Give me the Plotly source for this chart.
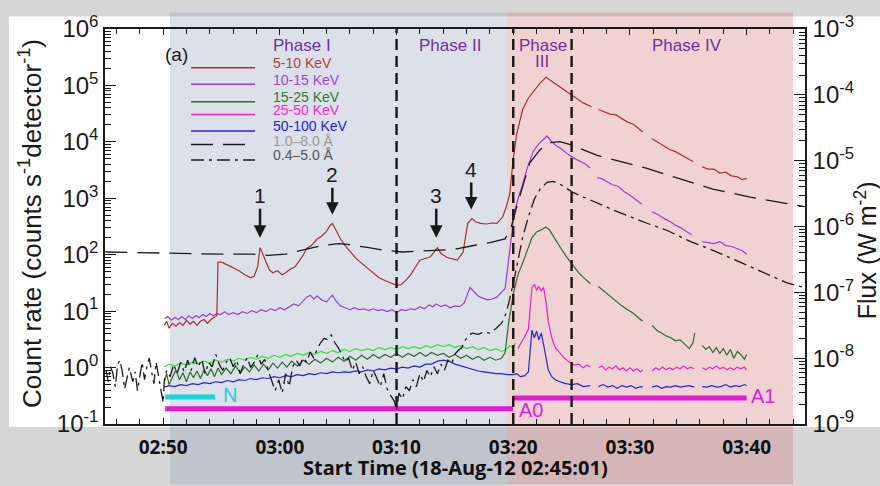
import math
import pandas as pd
import plotly.graph_objects as go

# Times are minutes after 2012-08-18 02:45:00 UT; None marks a data gap.
BASE = pd.Timestamp("2012-08-18 02:45:00")

# ---- RHESSI count rates (counts s^-1 detector^-1) ----
rate_5_10 = [
    (5.1, 5.6), (5.3, 6.6), (5.5, 5.0), (5.8, 6.1), (6.1, 5.4), (6.4, 6.3), (6.7, 5.6), (7.0, 6.9),
    (7.3, 5.9), (7.6, 6.6), (7.9, 5.6), (8.2, 6.6), (8.5, 7.1), (8.8, 6.1), (9.1, 7.1), (9.4, 7.7),
    (9.6, 8.3), (9.7, 74), (10.0, 74), (10.5, 66), (11.0, 58), (11.5, 52), (12.0, 44), (12.5, 39),
    (12.8, 42), (13.1, 61), (13.3, 134), (13.5, 106), (13.8, 80), (14.1, 54), (14.4, 48), (14.8, 52),
    (15.2, 44), (15.5, 48), (15.9, 56), (16.3, 61), (16.7, 80), (17.0, 98), (17.3, 129), (17.7, 145),
    (18.2, 190), (18.6, 215), (19.0, 260), (19.3, 330), (19.5, 358), (19.8, 270), (20.2, 190),
    (20.6, 145), (21.0, 115), (21.5, 87), (22.0, 71), (22.5, 58), (23.0, 46), (23.5, 39), (24.0, 35),
    (24.5, 32), (25.0, 28.6), (25.4, 29.6), (25.8, 35), (26.2, 44), (26.6, 58), (27.0, 80), (27.4, 85),
    (27.9, 92), (28.2, 110), (28.5, 134), (28.8, 105), (29.3, 90), (29.7, 85), (30.2, 80), (30.7, 110),
    (31.1, 360), (31.45, 437), (31.8, 380), (32.2, 360), (32.7, 350), (33.2, 365), (33.6, 360),
    (34.1, 470), (34.4, 700), (34.7, 1200), (35.0, 5000), (35.3, 13800), (35.8, 37000),
    (36.3, 60000), (36.8, 82000), (37.3, 110000), (37.8, 139000), (38.2, 123000), (38.6, 105000),
    (39.0, 93000), (39.5, 80000), (40.0, 68000), (40.5, 58000), (41.0, 49000), (41.7, 42000),
    (42.0, None),
    (42.3, 37500), (42.8, 34500), (43.3, 31000), (43.8, 30000), (44.3, 26300), (44.8, 22400),
    (45.3, 20500), (45.8, 17000), (46.1, 15000),
    (46.5, None),
    (46.9, 11300), (47.4, 9700), (47.9, 8600), (48.4, 7300), (48.9, 6700), (49.4, 5800),
    (49.9, 5200), (50.4, 4500),
    (50.8, None),
    (51.2, 3600), (51.7, 3300), (52.2, 3300), (52.7, 2800), (53.2, 2900), (53.7, 2500),
    (54.2, 2400), (54.6, 2150), (55.0, 2250),
]

rate_10_15 = [
    (5.1, 7.4), (5.4, 8.0), (5.7, 6.9), (6.0, 7.7), (6.3, 7.1), (6.6, 8.0), (6.9, 7.1), (7.2, 8.3),
    (7.5, 7.4), (7.8, 8.3), (8.1, 7.7), (8.4, 8.7), (8.7, 8.0), (9.0, 9.1), (9.3, 8.3), (9.6, 9.1),
    (9.9, 8.7), (10.3, 9.8), (10.6, 8.7), (11.0, 9.4), (11.4, 8.7), (11.8, 9.8), (12.2, 9.1),
    (12.6, 10.2), (13.0, 9.4), (13.4, 10.6), (13.8, 9.8), (14.2, 11.0), (14.6, 10.2), (15.0, 11.5),
    (15.4, 10.6), (15.8, 12.0), (16.2, 13.4), (16.6, 12.4), (17.0, 15.2), (17.3, 17.7), (17.6, 19.2),
    (17.9, 16.4), (18.2, 18.5), (18.6, 15.8), (19.0, 14.6), (19.3, 17.0), (19.5, 19.2), (19.8, 15.2),
    (20.2, 12.4), (20.6, 11.5), (21.0, 10.6), (21.4, 11.5), (21.8, 10.6), (22.2, 11.0), (22.6, 10.2),
    (23.0, 11.0), (23.4, 10.2), (23.8, 10.6), (24.2, 9.8), (24.6, 10.6), (25.0, 9.4), (25.4, 10.6),
    (25.8, 10.2), (26.2, 11.0), (26.6, 10.6), (27.0, 12.0), (27.4, 11.0), (27.8, 12.9), (28.1, 12.0),
    (28.4, 13.4), (28.8, 12.0), (29.2, 12.9), (29.6, 11.5), (30.0, 12.4), (30.4, 12.0), (30.8, 14.0),
    (31.1, 21.7), (31.3, 26.4), (31.6, 22.5), (32.0, 18.5), (32.4, 17.0), (32.8, 15.8), (33.2, 16.4),
    (33.6, 17.7), (34.0, 21.7), (34.3, 25), (34.5, 54), (34.8, 175), (35.1, 580), (35.5, 1130),
    (35.8, 1740), (36.2, 3430), (36.7, 6700), (37.2, 9300), (37.7, 11800), (37.9, 12700),
    (38.3, 10000), (38.7, 8500), (39.2, 7300), (39.7, 6000), (40.2, 5150), (40.7, 4550),
    (41.2, 4000), (41.6, 3430),
    (41.9, None),
    (42.2, 2320), (42.6, 2230), (43.0, 1990), (43.5, 1740), (44.0, 1620), (44.5, 1320), (45.0, 1130),
    (45.5, 930), (46.0, 795),
    (46.4, None),
    (46.9, 575), (47.4, 515), (47.9, 440), (48.4, 390), (48.9, 333), (49.4, 296), (49.9, 253),
    (50.3, 225),
    (50.7, None),
    (51.2, 171), (51.7, 164), (52.2, 157), (52.7, 171), (53.2, 145), (53.7, 140), (54.2, 129),
    (54.6, 119), (55.0, 102),
]

rate_15_25 = [
    (5.1, 0.56), (5.3, 0.78), (5.5, 0.50), (5.8, 0.69), (6.1, 0.91), (6.4, 0.61), (6.7, 0.81),
    (7.0, 0.56), (7.3, 0.84), (7.6, 0.66), (7.9, 0.87), (8.2, 0.64), (8.5, 0.91), (8.8, 0.72),
    (9.1, 0.95), (9.4, 0.69), (9.7, 0.98), (10.0, 0.75), (10.4, 0.98), (10.8, 0.78), (11.2, 1.07),
    (11.6, 0.81), (12.0, 1.02), (12.4, 0.84), (12.8, 1.11), (13.2, 0.87), (13.6, 1.15), (14.0, 0.91),
    (14.4, 1.2), (14.8, 0.98), (15.2, 1.25), (15.6, 1.02), (16.0, 1.3), (16.5, 1.07), (17.0, 1.35),
    (17.5, 1.15), (18.0, 1.4), (18.5, 1.2), (19.0, 1.46), (19.5, 1.25), (20.0, 1.52), (20.5, 1.3),
    (21.0, 1.58), (21.5, 1.35), (22.0, 1.65), (22.5, 1.4), (23.0, 1.71), (23.5, 1.46), (24.0, 1.71),
    (24.5, 1.52), (25.0, 1.78), (25.5, 1.52), (26.0, 1.78), (26.5, 1.58), (27.0, 1.85), (27.5, 1.58),
    (28.0, 1.85), (28.5, 1.65), (29.0, 1.78), (29.5, 1.52), (30.0, 1.71), (30.5, 1.46), (31.0, 1.65),
    (31.5, 1.4), (32.0, 1.58), (32.5, 1.35), (33.0, 1.52), (33.5, 1.35), (34.0, 1.46), (34.3, 1.85),
    (34.6, 6.1), (35.0, 20), (35.4, 44), (35.8, 71), (36.2, 119), (36.6, 199), (37.0, 253),
    (37.4, 275), (37.8, 310), (38.1, 275), (38.4, 218), (38.8, 157), (39.2, 119), (39.6, 90),
    (40.1, 66), (40.6, 48), (41.1, 38), (41.6, 31),
    (41.9, None),
    (42.3, 27.4), (42.8, 22.5), (43.3, 18.5), (43.8, 15.2), (44.3, 12.4), (44.8, 10.6), (45.3, 9.1),
    (45.8, 7.4), (46.1, 6.6),
    (46.5, None),
    (46.9, 5.6), (47.3, 4.6), (47.7, 4.1), (48.1, 3.64), (48.5, 3.37), (48.9, 2.98), (49.3, 3.1),
    (49.7, 2.64), (50.1, 2.17), (50.4, 2.75), (50.55, 4.1),
    (50.8, None),
    (51.2, 2.45), (51.5, 2.09), (51.8, 2.35), (52.1, 1.85), (52.4, 2.26), (52.7, 1.78), (53.0, 2.17),
    (53.3, 1.65), (53.6, 2.09), (53.9, 1.46), (54.2, 1.93), (54.5, 1.71), (54.8, 1.4), (55.0, 1.71),
]

rate_15_25_b = [
    (5.1, 1.02), (5.5, 1.15), (6.0, 1.07), (6.5, 1.2), (7.0, 1.11), (7.5, 1.25), (8.0, 1.15),
    (8.5, 1.3), (9.0, 1.2), (9.5, 1.35), (10.0, 1.25), (10.5, 1.4), (11.0, 1.3), (11.5, 1.46),
    (12.0, 1.35), (12.5, 1.52), (13.0, 1.4), (13.5, 1.58), (14.0, 1.46), (14.5, 1.65), (15.0, 1.52),
    (15.5, 1.71), (16.0, 1.58), (16.5, 1.78), (17.0, 1.65), (17.5, 1.85), (18.0, 1.71), (18.5, 1.93),
    (19.0, 1.78), (19.5, 2.0), (20.0, 1.85), (20.5, 2.09), (21.0, 1.93), (21.5, 2.17), (22.0, 2.0),
    (22.5, 2.17), (23.0, 2.0), (23.5, 2.26), (24.0, 2.09), (24.5, 2.26), (25.0, 2.09), (25.5, 2.35),
    (26.0, 2.17), (26.5, 2.35), (27.0, 2.17), (27.5, 2.45), (28.0, 2.26), (28.5, 2.55), (29.0, 2.35),
    (29.5, 2.55), (30.0, 2.26), (30.5, 2.45), (31.0, 2.17), (31.5, 2.35), (32.0, 2.09), (32.5, 2.26),
    (33.0, 2.0), (33.5, 2.17), (34.0, 1.93), (34.4, 2.09), (34.7, 2.45), (35.0, 2.17), (35.2, 2.75),
]

rate_25_50 = [
    (35.4, 2.17), (35.7, 2.75), (36.0, 3.6), (36.3, 4.8), (36.5, 13.4), (36.6, 26), (36.8, 30),
    (37.0, 23.4), (37.2, 27.4), (37.4, 22.5), (37.6, 26.4), (37.8, 14.6), (38.0, 6.6), (38.3, 3.37),
    (38.6, 2.26), (39.0, 1.85), (39.4, 1.46), (39.8, 1.25), (40.2, 1.11), (40.6, 1.15), (41.0, 0.99),
    (41.3, 1.11), (41.6, 1.02),
    (41.9, None),
    (42.3, 0.99), (42.6, 1.07), (42.9, 0.91), (43.2, 1.02), (43.5, 0.95), (43.8, 1.07), (44.1, 0.91),
    (44.4, 0.99), (44.7, 0.87), (45.0, 0.99), (45.3, 0.87), (45.6, 0.95), (45.9, 0.84), (46.1, 0.91),
    (46.5, None),
    (46.9, 0.87), (47.2, 0.99), (47.5, 0.91), (47.8, 1.02), (48.1, 0.91), (48.4, 0.99), (48.7, 0.91),
    (49.0, 1.02), (49.3, 0.95), (49.6, 1.07), (49.9, 0.95), (50.2, 1.02), (50.5, 0.95),
    (50.8, None),
    (51.2, 0.99), (51.5, 0.91), (51.8, 1.02), (52.1, 0.95), (52.4, 1.07), (52.7, 0.95), (53.0, 1.02),
    (53.3, 0.91), (53.6, 0.99), (53.9, 0.91), (54.2, 1.02), (54.5, 0.95), (54.8, 1.02), (55.0, 0.91),
]

rate_50_100 = [
    (5.1, 0.45), (5.5, 0.48), (6.0, 0.46), (6.5, 0.50), (7.0, 0.48), (7.5, 0.52), (8.0, 0.50),
    (8.5, 0.54), (9.0, 0.52), (9.5, 0.56), (10.0, 0.54), (10.5, 0.59), (11.0, 0.56), (11.5, 0.61),
    (12.0, 0.59), (12.5, 0.64), (13.0, 0.61), (13.5, 0.66), (14.0, 0.64), (14.5, 0.69), (15.0, 0.66),
    (15.5, 0.72), (16.0, 0.69), (16.5, 0.75), (17.0, 0.72), (17.5, 0.78), (18.0, 0.75), (18.5, 0.81),
    (19.0, 0.78), (19.5, 0.84), (20.0, 0.81), (20.5, 0.84), (21.0, 0.82), (21.5, 0.87), (22.0, 0.84),
    (22.5, 0.91), (23.0, 0.87), (23.5, 0.95), (24.0, 0.91), (24.5, 0.98), (25.0, 0.95), (25.5, 1.02),
    (26.0, 0.98), (26.5, 1.07), (27.0, 1.02), (27.5, 1.15), (28.0, 1.15), (28.5, 1.3), (29.0, 1.35),
    (29.5, 1.3), (30.0, 1.15), (30.5, 1.07), (31.0, 0.98), (31.5, 0.91), (32.0, 0.87), (32.5, 0.84),
    (33.0, 0.81), (33.5, 0.78), (34.0, 0.78), (34.5, 0.75), (35.0, 0.75), (35.3, 0.78), (35.6, 0.69),
    (36.0, 0.72), (36.3, 0.84), (36.5, 2.26), (36.6, 4.6), (36.8, 3.37), (37.0, 4.4), (37.2, 3.1),
    (37.4, 4.1), (37.6, 2.55), (37.8, 1.52), (38.0, 0.91), (38.3, 0.69), (38.6, 0.61), (39.0, 0.56),
    (39.5, 0.52), (40.0, 0.50), (40.5, 0.52), (41.0, 0.46), (41.6, 0.48),
    (41.9, None),
    (42.3, 0.46), (42.7, 0.50), (43.1, 0.45), (43.5, 0.48), (43.9, 0.43), (44.3, 0.48), (44.7, 0.45),
    (45.1, 0.48), (45.5, 0.43), (45.9, 0.46), (46.1, 0.45),
    (46.5, None),
    (46.9, 0.45), (47.3, 0.48), (47.7, 0.43), (48.1, 0.46), (48.5, 0.45), (48.9, 0.48), (49.3, 0.45),
    (49.7, 0.46), (50.1, 0.48), (50.5, 0.45),
    (50.8, None),
    (51.2, 0.46), (51.6, 0.45), (52.0, 0.48), (52.4, 0.45), (52.8, 0.46), (53.2, 0.50), (53.6, 0.45),
    (54.0, 0.48), (54.4, 0.46), (54.8, 0.50), (55.0, 0.48),
]

# ---- GOES X-ray flux (W m^-2) ----
goes_1_8 = [
    (0.05, 4.1e-7), (2.5, 4.0e-7), (5.0, 3.9e-7), (7.5, 3.85e-7), (10.0, 3.8e-7), (12.5, 3.8e-7),
    (14.0, 3.65e-7), (15.5, 3.8e-7), (17.0, 4.35e-7), (18.5, 5.1e-7), (20.0, 5.5e-7), (21.0, 5.3e-7),
    (22.5, 4.8e-7), (24.0, 4.35e-7), (25.5, 4.1e-7), (27.0, 4.2e-7), (28.5, 4.35e-7), (30.0, 4.5e-7),
    (31.5, 5.1e-7), (33.0, 5.7e-7), (34.3, 6.5e-7), (34.8, 9.5e-7), (35.3, 2.0e-6), (35.8, 4.0e-6),
    (36.4, 9.2e-6), (37.3, 1.47e-5), (38.1, 1.87e-5), (39.0, 1.94e-5), (39.9, 1.76e-5),
    (42.2, 1.2e-5), (46.4, 7.7e-6), (48.2, 6.1e-6), (52.1, 3.7e-6), (55.3, 2.8e-6), (58.9, 2.15e-6),
    (59.95, 2.0e-6),
]

goes_05_4 = [
    (0.1, 6.5e-9), (0.3, 4.4e-9), (0.5, 7.4e-9), (0.7, 5.8e-9), (0.9, 3.7e-9), (1.1, 8.1e-9),
    (1.3, 9.3e-9), (1.5, 6.2e-9), (1.7, 3.4e-9), (1.9, 5.2e-9), (2.1, 7.2e-9), (2.4, 4.4e-9),
    (2.6, 6.2e-9), (2.8, 3.2e-9), (3.0, 5.8e-9), (3.2, 8.7e-9), (3.4, 4.7e-9), (3.6, 7.4e-9),
    (3.8, 1.0e-8), (4.0, 6.5e-9), (4.2, 4.1e-9), (4.4, 8.7e-9), (4.6, 5.4e-9), (4.8, 3.4e-9),
    (5.0, 2.1e-9), (5.1, 4.7e-9), (5.3, 6.5e-9), (5.6, 5.2e-9), (5.9, 8.1e-9), (6.2, 5.8e-9),
    (6.5, 8.7e-9), (6.8, 6.2e-9), (7.1, 9.3e-9), (7.4, 6.5e-9), (7.7, 1.02e-8), (8.0, 7.4e-9),
    (8.3, 9.6e-9), (8.6, 5.8e-9), (8.9, 8.7e-9), (9.2, 7.4e-9), (9.5, 1.15e-8), (9.8, 8.1e-9),
    (10.1, 6.5e-9), (10.4, 8.7e-9), (10.7, 1.02e-8), (11.0, 7.4e-9), (11.3, 9.3e-9), (11.6, 5.8e-9),
    (11.9, 8.1e-9), (12.2, 1.02e-8), (12.5, 7.2e-9), (12.8, 8.7e-9), (13.1, 1.12e-8), (13.4, 8.1e-9),
    (13.7, 9.6e-9), (14.0, 6.5e-9), (14.3, 4.4e-9), (14.6, 3.2e-9), (14.9, 4.7e-9), (15.2, 2.95e-9),
    (15.5, 5.8e-9), (15.8, 3.7e-9), (16.1, 7.4e-9), (16.4, 9.3e-9), (16.7, 7.6e-9), (17.0, 1.02e-8),
    (17.3, 8.7e-9), (17.6, 1.24e-8), (17.9, 1.0e-8), (18.2, 1.39e-8), (18.5, 1.73e-8), (18.8, 2.0e-8),
    (19.1, 1.9e-8), (19.4, 2.25e-8), (19.7, 1.73e-8), (20.0, 1.45e-8), (20.3, 1.15e-8), (20.6, 8.7e-9),
    (20.9, 1.0e-8), (21.2, 6.5e-9), (21.5, 8.7e-9), (21.8, 5.8e-9), (22.1, 7.4e-9), (22.4, 5.2e-9),
    (22.7, 4.1e-9), (23.0, 6.5e-9), (23.3, 5.0e-9), (23.6, 3.7e-9), (23.9, 5.8e-9), (24.2, 3.4e-9),
    (24.5, 2.7e-9), (24.8, 2.25e-9), (25.0, 1.6e-9), (25.2, 2.95e-9), (25.5, 2.4e-9), (25.8, 3.7e-9),
    (26.1, 3.2e-9), (26.4, 4.7e-9), (26.7, 3.7e-9), (27.0, 5.8e-9), (27.3, 4.4e-9), (27.6, 6.5e-9),
    (27.9, 5.2e-9), (28.2, 7.4e-9), (28.5, 5.8e-9), (28.8, 8.1e-9), (29.1, 6.5e-9), (29.4, 9.3e-9),
    (29.7, 8.1e-9), (30.0, 1.15e-8), (30.3, 1.32e-8), (30.6, 1.45e-8), (30.9, 1.9e-8), (31.2, 2.25e-8),
    (31.5, 2.4e-8), (32.0, 2.3e-8), (32.5, 2.5e-8), (33.0, 2.4e-8), (33.5, 2.8e-8), (34.0, 3.4e-8),
    (34.3, 4.4e-8), (34.6, 6.7e-8), (35.0, 1.35e-7), (35.4, 3.1e-7), (35.8, 6.8e-7), (36.3, 1.4e-6),
    (36.8, 2.6e-6), (37.3, 3.7e-6), (37.9, 4.7e-6), (38.4, 4.85e-6), (39.0, 4.4e-6), (40.1, 3.3e-6),
    (42.4, 2.2e-6), (43.5, 1.8e-6), (46.4, 1.13e-6), (48.2, 8.7e-7), (50.2, 5.9e-7), (52.1, 4.35e-7),
    (55.0, 2.6e-7), (58.4, 1.4e-7), (59.95, 1.18e-7),
]

# Detector state intervals (start, end), minutes after 02:45 UT
state_N = (5.17, 9.45)
state_A0 = (5.17, 34.97)
state_A1 = (34.97, 55.0)

# Phase boundaries: 03:10, 03:20, 03:25
phase_edges = [25.0, 35.0, 40.0]

# Numbered HXR bursts (label, minutes after 02:45 UT)
bursts = [("1", 13.3), ("2", 19.5), ("3", 28.4), ("4", 31.4)]

x_tick_text = ["02:50", "03:00", "03:10", "03:20", "03:30", "03:40"]
rate_decades = [-1, 0, 1, 2, 3, 4, 5, 6]
flux_decades = [-9, -8, -7, -6, -5, -4, -3]


def at(minutes):
    return BASE + pd.Timedelta(minutes=minutes)


def split(pairs):
    return [at(m) for m, _ in pairs], [v for _, v in pairs]


# ---- geometry helpers (figure pixels -> paper fraction) ----
W, H = 880, 486
ML, MR, MT, MB = 105, 75, 17, 62
PW, PH = W - ML - MR, H - MT - MB


def PX(px):
    return (px - ML) / PW


def PY(py):
    return (H - MB - py) / PH


C_RED = "#a8302f"
C_PURPLE = "#9a3cdc"
C_DGREEN = "#2e6b28"
C_LGREEN = "#33e033"
C_MAGENTA = "#f01ed2"
C_BLUE = "#2323e8"
C_BLACK = "#1a1a1a"
C_BAR = "#e61ad6"
C_CYAN = "#14d4dc"
C_PHASE = "#7030a0"

LONG_DASH = "22px,10px"
DASH_DOT = "13px,5px,3px,5px"

fig = go.Figure()

rate_series = [
    (rate_15_25_b, C_LGREEN), (rate_15_25, C_DGREEN), (rate_50_100, C_BLUE),
    (rate_25_50, C_MAGENTA), (rate_10_15, C_PURPLE), (rate_5_10, C_RED),
]
for pairs, color in rate_series:
    tx, vy = split(pairs)
    fig.add_trace(go.Scatter(x=tx, y=vy, mode="lines", line=dict(color=color, width=1.2),
                             showlegend=False, yaxis="y"))

for pairs, dash in [(goes_05_4, DASH_DOT), (goes_1_8, LONG_DASH)]:
    tx, vy = split(pairs)
    fig.add_trace(go.Scatter(x=tx, y=vy, mode="lines",
                             line=dict(color=C_BLACK, width=1.3, dash=dash),
                             showlegend=False, yaxis="y2"))

# detector state bars
for (t0, t1), level, color in [(state_N, 0.30, C_CYAN), (state_A0, 0.186, C_BAR),
                               (state_A1, 0.288, C_BAR)]:
    fig.add_trace(go.Scatter(x=[at(t0), at(t1)], y=[level, level], mode="lines",
                             line=dict(color=color, width=5), showlegend=False, yaxis="y"))

shapes = []
# white figure panel on grey slide background
shapes.append(dict(type="rect", xref="paper", yref="paper", x0=PX(9), x1=PX(880), y0=PY(427), y1=PY(4),
                   fillcolor="white", line=dict(width=0), layer="below"))
# phase shading (slide overlays spanning full height)
shapes.append(dict(type="rect", xref="paper", yref="paper", x0=PX(170), x1=PX(507), y0=PY(486), y1=PY(0),
                   fillcolor="rgba(149,161,185,0.33)", line=dict(width=0), layer="below"))
shapes.append(dict(type="rect", xref="paper", yref="paper", x0=PX(507), x1=PX(793), y0=PY(486), y1=PY(0),
                   fillcolor="rgba(210,118,118,0.33)", line=dict(width=0), layer="below"))
# phase boundaries
for m in phase_edges:
    shapes.append(dict(type="line", xref="x", yref="paper", x0=at(m), x1=at(m), y0=0, y1=1,
                       line=dict(color="#1c1414", width=2.4, dash="11px,6px")))

# legend samples
legend_rows = [
    ("5-10 KeV", C_RED, "solid", 52, 57, "#b04040"),
    ("10-15 KeV", C_PURPLE, "solid", 70, 74, "#a040e0"),
    ("15-25 KeV", C_DGREEN, "solid", 87, 92, "#2e7a2e"),
    ("25-50 KeV", C_MAGENTA, "solid", 100, 105, "#ff26dc"),
    ("50-100 KeV", C_BLUE, "solid", 117, 122, "#2222ee"),
    ("1.0\u20138.0 \u00c5", C_BLACK, LONG_DASH, 132, 136, "#999999"),
    ("0.4\u20135.0 \u00c5", C_BLACK, DASH_DOT, 147, 152, "#555555"),
]
annotations = []
for text, color, dash, ty, ly, tcol in legend_rows:
    shapes.append(dict(type="line", xref="paper", yref="paper", x0=PX(191), x1=PX(255),
                       y0=PY(ly), y1=PY(ly), line=dict(color=color, width=1.5, dash=dash)))
    annotations.append(dict(xref="paper", yref="paper", x=PX(271), y=PY(ty), text=text,
                            showarrow=False, xanchor="left", yanchor="middle",
                            font=dict(family="Liberation Sans", size=14, color=tcol)))

# phase labels
for text, cx, cy in [("Phase I", 302, 34), ("Phase II", 450, 34), ("Phase", 543, 34),
                     ("III", 542, 51), ("Phase IV", 687, 34)]:
    annotations.append(dict(xref="paper", yref="paper", x=PX(cx), y=PY(cy), text=text, showarrow=False,
                            xanchor="center", yanchor="middle",
                            font=dict(family="Liberation Sans", size=17, color=C_PHASE)))

annotations.append(dict(xref="paper", yref="paper", x=PX(176), y=PY(43), text="(a)", showarrow=False,
                        xanchor="center", yanchor="middle",
                        font=dict(family="Liberation Sans", size=19, color=C_BLACK)))

# burst arrows: tip height (counts) and label offset
arrow_tips = {"1": (200, -42), "2": (510, -40), "3": (200, -42), "4": (630, -40)}
for label, m in bursts:
    tip, ay = arrow_tips[label]
    annotations.append(dict(xref="x", yref="y", x=at(m), y=math.log10(tip), text=label,
                            showarrow=True, arrowhead=2, arrowsize=1, arrowwidth=2.5,
                            arrowcolor=C_BLACK, ax=0, ay=ay,
                            font=dict(family="Liberation Sans", size=21, color=C_BLACK)))

# state labels
for text, cx, cy, col in [("N", 230, 394, C_CYAN), ("A0", 531, 410, C_BAR), ("A1", 763, 395, C_BAR)]:
    annotations.append(dict(xref="paper", yref="paper", x=PX(cx), y=PY(cy), text=text, showarrow=False,
                            xanchor="center", yanchor="middle",
                            font=dict(family="Liberation Sans", size=20, color=col)))

# axis titles
annotations.append(dict(xref="paper", yref="paper", x=PX(30), y=PY(218),
                        text="Count rate (counts s<sup>-1</sup>detector<sup>-1</sup>)",
                        textangle=-90, showarrow=False, xanchor="center", yanchor="middle",
                        font=dict(family="Liberation Sans", size=26, color=C_BLACK)))
annotations.append(dict(xref="paper", yref="paper", x=PX(866), y=PY(245),
                        text="Flux (W m<sup>-2</sup>)",
                        textangle=-90, showarrow=False, xanchor="center", yanchor="middle",
                        font=dict(family="Liberation Sans", size=25, color=C_BLACK)))
annotations.append(dict(xref="paper", yref="paper", x=PX(455), y=PY(469),
                        text="Start Time (18-Aug-12 02:45:01)", showarrow=False,
                        xanchor="center", yanchor="middle",
                        font=dict(family="Open Sans", size=20, color="#111111", weight="bold")))

rate_minor = [d * 10 ** k for k in rate_decades[:-1] for d in range(2, 10)]
flux_minor = [d * 10 ** k for k in flux_decades[:-1] for d in range(2, 10)]
x_major = [pd.Timestamp("2012-08-18 " + s) for s in x_tick_text]
x_minor = [at(m) for m in range(1, 60, 1) if m % 2 == 1]

axis_common = dict(showgrid=False, zeroline=False, showline=True, linecolor=C_BLACK, linewidth=1.5,
                   ticks="inside", tickcolor=C_BLACK)

fig.update_layout(
    width=W, height=H,
    margin=dict(l=ML, r=MR, t=MT, b=MB),
    paper_bgcolor="#d6d6d6",
    plot_bgcolor="rgba(0,0,0,0)",
    font=dict(family="Liberation Sans", color=C_BLACK),
    showlegend=False,
    xaxis=dict(
        **axis_common, type="date",
        range=[at(1 / 60), at(60)],
        tickmode="array", tickvals=x_major, ticktext=x_tick_text,
        ticklen=6, tickwidth=1.3, mirror="ticks", ticklabelstandoff=5,
        tickfont=dict(family="Open Sans", size=19, color="#111111", weight="bold"),
        minor=dict(tickmode="array", tickvals=x_minor, ticks="inside", ticklen=5, tickwidth=1.2,
                   tickcolor=C_BLACK),
    ),
    yaxis=dict(
        **axis_common, type="log", range=[-1, 6],
        tickmode="array", tickvals=[10.0 ** k for k in rate_decades],
        ticktext=["10<sup>%d</sup>" % k for k in rate_decades],
        ticklen=11, tickwidth=1.3,
        tickfont=dict(family="Liberation Sans", size=24, color=C_BLACK),
        minor=dict(tickmode="array", tickvals=rate_minor, ticks="inside", ticklen=6, tickwidth=1,
                   tickcolor=C_BLACK),
    ),
    yaxis2=dict(
        **axis_common, type="log", range=[-9, -3], overlaying="y", side="right", anchor="x",
        tickmode="array", tickvals=[10.0 ** k for k in flux_decades],
        ticktext=["10<sup>%d</sup>" % k for k in flux_decades],
        ticklen=11, tickwidth=1.3, ticklabelstandoff=1,
        tickfont=dict(family="Liberation Sans", size=24, color=C_BLACK),
        minor=dict(tickmode="array", tickvals=flux_minor, ticks="inside", ticklen=6, tickwidth=1,
                   tickcolor=C_BLACK),
    ),
    shapes=shapes,
    annotations=annotations,
)

fig.write_html("out.html")
